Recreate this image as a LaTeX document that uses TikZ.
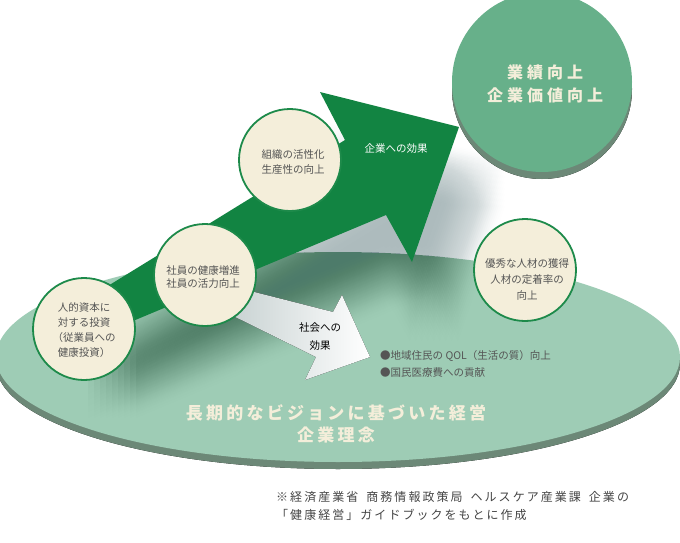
\documentclass[tikz,border=0pt]{standalone}
\usepackage{fontspec}
\setmainfont{Noto Sans CJK JP}
\usepackage{tikz}

\definecolor{cream}{HTML}{F4EEDA}
\definecolor{circline}{HTML}{1D8A4A}
\definecolor{arrowgreen}{HTML}{128442}
\definecolor{ellgreen}{HTML}{9ECCB5}
\definecolor{topgreen}{HTML}{67B08A}
\definecolor{rimdark}{HTML}{6C8877}
\definecolor{rimlight}{HTML}{B2C8BB}
\definecolor{textgray}{HTML}{555555}
\definecolor{notegray}{HTML}{444444}
\definecolor{shadowc}{HTML}{46666A}
\definecolor{shadegray}{HTML}{C2CDCD}

\newcommand{\bigarrow}{(90,297) -- (345,140) -- (320,92) -- (459,127) -- (412,262) -- (386,215) -- (90,339) -- cycle}

\begin{document}
\begin{tikzpicture}[x=1pt,y=-1pt,
  circ/.style = {circle, draw=circline, line width=1.8pt, fill=cream, minimum size=102pt, inner sep=0pt},
  txt/.style = {text=textgray, align=center, inner sep=0pt, font=\fontsize{10.5}{15}\selectfont},
  head/.style = {text=cream, align=center, inner sep=0pt}]
      \useasboundingbox (0,0) rectangle (680,543);

      % base ellipse
      \fill[left color=rimdark, middle color=rimlight, right color=rimdark] (338,364) ellipse [x radius=342pt, y radius=105pt];
      \fill[ellgreen] (338,357) ellipse [x radius=342pt, y radius=105pt];

      % soft shadow of the big arrow
      \foreach \dx in {-24,-18,...,24}
        \foreach \dy in {-24,-18,...,24}
          \fill[shadowc, opacity=0.0065, shift={(22+\dx,55+\dy)}] \bigarrow;

      % goal circle
      \fill[left color=rimdark, middle color=rimlight, right color=rimdark] (542,89) circle [radius=90pt];
      \node[circle, fill=topgreen, minimum size=180pt, inner sep=0pt] (goal) at (542,82) {};
      \node[head, font=\fontsize{16}{23}\selectfont\bfseries\addfontfeatures{LetterSpace=25}] (goaltxt) at (545,84) {業績向上\\企業価値向上};

      % arrows
      \fill[left color=shadegray, middle color=white!85!shadegray, right color=white] (215,282) -- (333,312) -- (342,295) -- (370,357) -- (305,380) -- (316,357) -- (215,307) -- cycle;
      \fill[arrowgreen] \bigarrow;

      \node[circ] (c1) at (84,329) {};
      \node[circ] (c2) at (205,275) {};
      \node[circ] (c3) at (290,160) {};
      \node[circ] (c4) at (525,270) {};

      \node[txt] (t1) at (84,330) {人的資本に\\対する投資\\（従業員への\\健康投資）};
      \node[txt, font=\fontsize{10.5}{13.5}\selectfont] (t2) at (203,277) {社員の健康増進\\社員の活力向上};
      \node[txt] (t3) at (293,162) {組織の活性化\\生産性の向上};
      \node[txt, font=\fontsize{10.5}{16}\selectfont] (t4) at (527,279) {優秀な人材の獲得\\人材の定着率の\\向上};

      \node[txt, text=white] (corp) at (396,149) {企業への効果};
      \node[txt, text=black, font=\fontsize{10.5}{18}\selectfont] (soc) at (320,337) {社会への\\効果};
      \node[txt, align=left, anchor=west, font=\fontsize{10.5}{17}\selectfont] (effects) at (380,363.5) {●地域住民の QOL（生活の質）向上\\●国民医療費への貢献};

      \node[head, font=\fontsize{17}{22}\selectfont\bfseries\addfontfeatures{LetterSpace=19}] (vision) at (336,424) {長期的なビジョンに基づいた経営\\企業理念};

      \node[txt, text=notegray, align=left, anchor=west, font=\fontsize{12}{18}\selectfont\addfontfeatures{LetterSpace=17}] (note) at (276,506) {※経済産業省\hspace{8pt}商務情報政策局\hspace{8pt}ヘルスケア産業課\hspace{8pt}企業の\\「健康経営」ガイドブックをもとに作成};
    \end{tikzpicture}
\end{document}
